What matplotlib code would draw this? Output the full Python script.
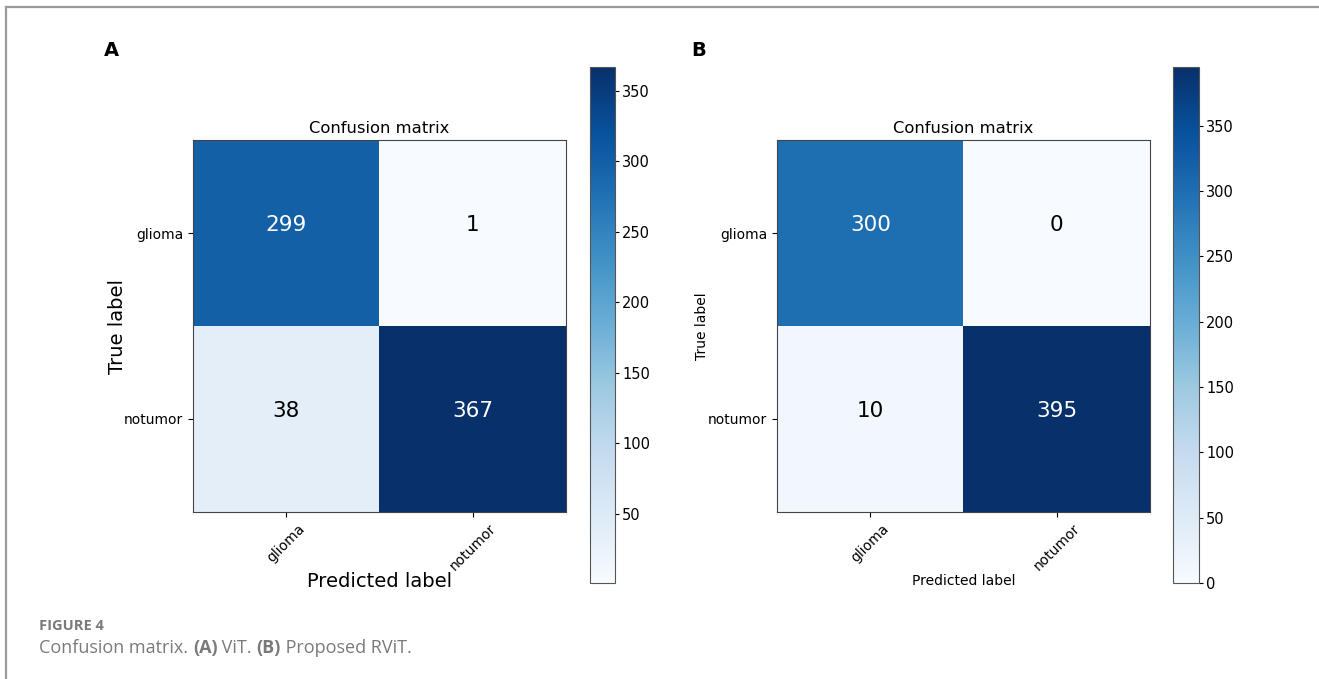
import numpy as np
import matplotlib
matplotlib.use("Agg")
import matplotlib.pyplot as plt
from matplotlib.lines import Line2D

plt.rcParams["font.family"] = ["DejaVu Sans"]

# class names and the two confusion matrices (rows = true, cols = predicted)
classes = ["glioma", "notumor"]
cm_vit = np.array([[299, 1],
                   [38, 367]])
cm_rvit = np.array([[300, 0],
                    [10, 395]])

W, H = 1319, 679
fig = plt.figure(figsize=(W / 100, H / 100), dpi=100)


def box(x0, y0, x1, y1):
    # pixel box (top-left origin) -> figure fraction rect
    return [x0 / W, 1 - y1 / H, (x1 - x0) / W, (y1 - y0) / H]


def draw_cm(cm, ax, cax, label_size):
    im = ax.imshow(cm, interpolation="nearest", cmap="Blues", aspect="auto")
    ax.set_title("Confusion matrix", fontsize=11.8, pad=5)
    cb = fig.colorbar(im, cax=cax)
    cb.outline.set_edgecolor("#555555")
    cb.ax.tick_params(labelsize=10.5, length=3, pad=2)
    ticks = np.arange(len(classes))
    ax.set_xticks(ticks)
    ax.set_xticklabels(classes, rotation=45, fontsize=10)
    ax.set_yticks(ticks)
    ax.set_yticklabels(classes, fontsize=10)
    thresh = cm.max() / 2.0
    for i in range(cm.shape[0]):
        for j in range(cm.shape[1]):
            ax.annotate(format(cm[i, j], "d"), (j, i), xytext=(0, 5.5),
                        textcoords="offset points", ha="center", va="center",
                        fontsize=15.5,
                        color="white" if cm[i, j] > thresh else "black")
    ax.set_ylabel("True label", fontsize=label_size)
    ax.set_xlabel("Predicted label", fontsize=label_size)
    for s in ax.spines.values():
        s.set_edgecolor("#444444")


ax_a = fig.add_axes(box(193, 140, 566, 512))
cax_a = fig.add_axes(box(590, 67, 615, 583))
draw_cm(cm_vit, ax_a, cax_a, 14)
ax_a.yaxis.labelpad = -2
ax_a.xaxis.labelpad = -1

ax_b = fig.add_axes(box(777, 140, 1150, 512))
cax_b = fig.add_axes(box(1173, 67, 1199, 583))
draw_cm(cm_rvit, ax_b, cax_b, 10)
ax_b.yaxis.labelpad = -1
ax_b.xaxis.labelpad = 0

# panel letters
fig.text(104 / W, 1 - 50 / H, "A", fontsize=14, fontweight="bold", va="center")
fig.text(691 / W, 1 - 50 / H, "B", fontsize=14, fontweight="bold", va="center")

# frame lines on top and left
fig.add_artist(Line2D([6 / W, 1], [1 - 7 / H, 1 - 7 / H], color="#9a9a9a", lw=1.6))
fig.add_artist(Line2D([6 / W, 6 / W], [0, 1 - 7 / H], color="#9a9a9a", lw=1.6))

# caption
cap = "#7a7a7a"
fig.text(39 / W, 1 - 626 / H, "FIGURE 4", fontsize=10.5, fontweight="bold",
         color=cap, family="Open Sans", va="center")
pieces = [("Confusion matrix. ", "normal"), ("(A)", "bold"), (" ViT. ", "normal"),
          ("(B)", "bold"), (" Proposed RViT.", "normal")]
fig.canvas.draw()
r = fig.canvas.get_renderer()
x = 39 / W
for s, wgt in pieces:
    t = fig.text(x, 1 - 648 / H, s, fontsize=13, fontweight=wgt, color=cap,
                 family="Open Sans", va="center")
    bb = t.get_window_extent(renderer=r)
    x += bb.width / W

fig.savefig("out.png", dpi=100)
